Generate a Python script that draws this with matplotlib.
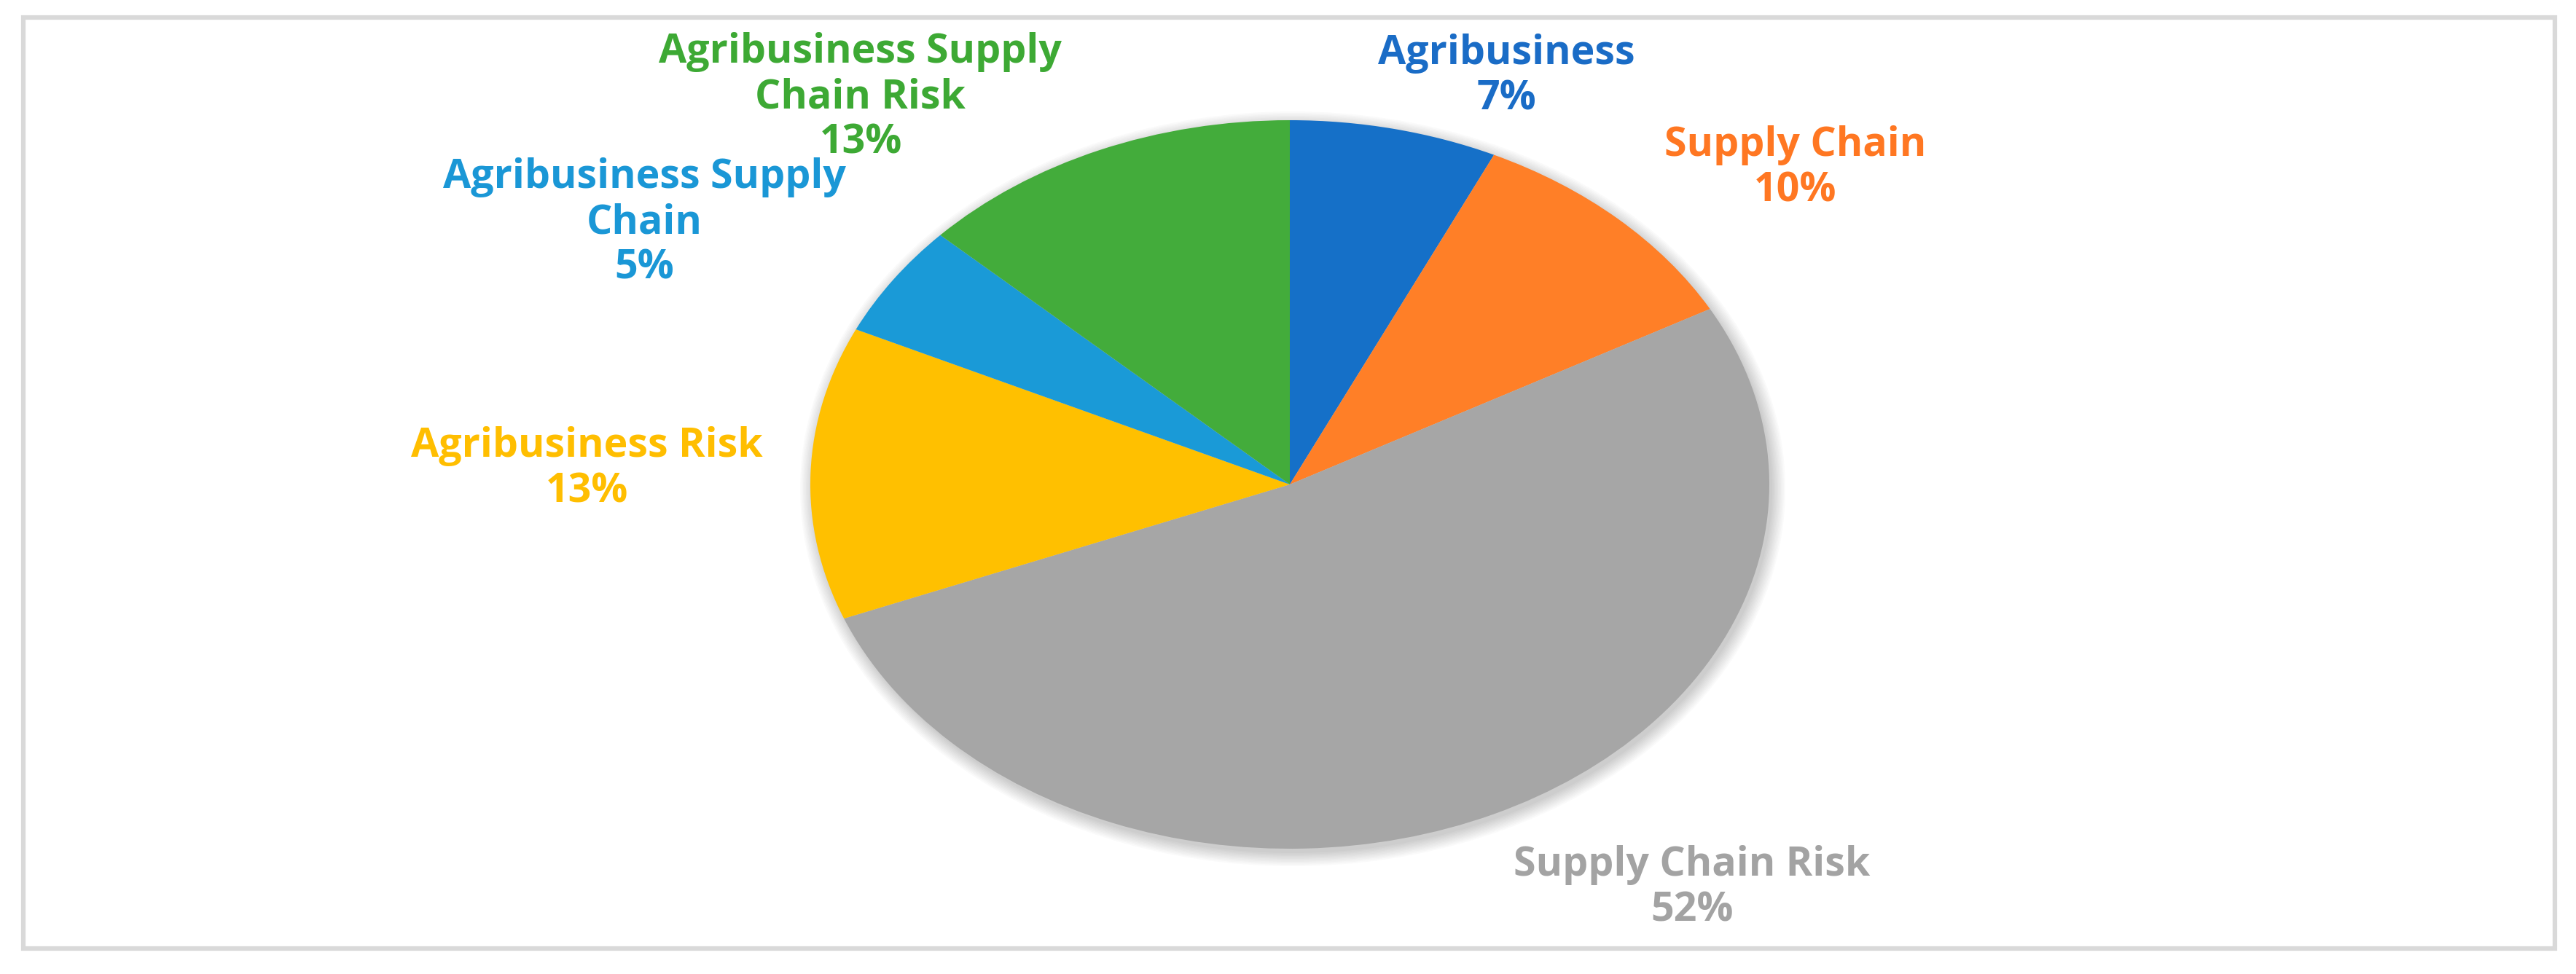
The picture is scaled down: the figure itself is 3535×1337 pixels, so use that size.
import matplotlib.pyplot as plt
from matplotlib.patches import Rectangle, Ellipse

# ---------------------------------------------------------------------------
# Data
# ---------------------------------------------------------------------------

categories = ['Agribusiness', 'Supply Chain', 'Supply Chain Risk',
              'Agribusiness Risk', 'Agribusiness Supply Chain',
              'Agribusiness Supply Chain Risk']
shares = [7, 10, 52, 13, 5, 13]
label_text = ['Agribusiness', 'Supply Chain', 'Supply Chain Risk',
              'Agribusiness Risk', 'Agribusiness Supply\nChain',
              'Agribusiness Supply\nChain Risk']

# ---------------------------------------------------------------------------
# Style
# ---------------------------------------------------------------------------

colors = ['#1570C8', '#FF7F27', '#A6A6A6', '#FFC000', '#1A9AD7', '#43AC3B']
text_colors = ['#1A6CC6', '#FF7722', '#A3A3A3', '#FFBE00', '#1A97D6', '#3DA934']
# label block centres in pixels
label_pos = [(2067, 105), (2464, 231), (2322, 1219),
             (805, 644), (884, 306), (1181, 134)]

W, H = 3535, 1337
DPI = 100
plt.rcParams['font.family'] = ['Open Sans', 'DejaVu Sans']

fig = plt.figure(figsize=(W / DPI, H / DPI), dpi=DPI)
fig.patch.set_facecolor('white')

# overlay axes in pixel coordinates
ov = fig.add_axes([0, 0, 1, 1])
ov.set_xlim(0, W)
ov.set_ylim(H, 0)
ov.axis('off')

# chart frame
ov.add_patch(Rectangle((32, 24), 3474, 1278, fill=False,
                       edgecolor='#D9D9D9', linewidth=4.5))

# pie geometry (elliptical)
cx, cy, rx, ry = 1770, 665, 658, 500

# soft shadow around the pie
for i in range(10):
    ov.add_patch(Ellipse((cx + 4, cy + 6), 2 * rx + 4 * i, 2 * ry + 4 * i,
                         facecolor='#000000', edgecolor='none',
                         alpha=0.018, zorder=1))

pax = fig.add_axes([(cx - rx) / W, 1 - (cy + ry) / H, 2 * rx / W, 2 * ry / H])
pax.pie(shares, colors=colors, startangle=90, counterclock=False,
        radius=1.0, wedgeprops=dict(linewidth=0))
pax.set_aspect('auto')
pax.set_xlim(-1, 1)
pax.set_ylim(-1, 1)
pax.axis('off')

for name, val, (x, y), c in zip(label_text, shares, label_pos, text_colors):
    ov.text(x, y, '%s\n%d%%' % (name, val), color=c, fontsize=40,
            fontweight='bold', ha='center', va='center', linespacing=1.17,
            zorder=5)

fig.savefig('out.png', dpi=DPI, facecolor='white')
plt.close(fig)
